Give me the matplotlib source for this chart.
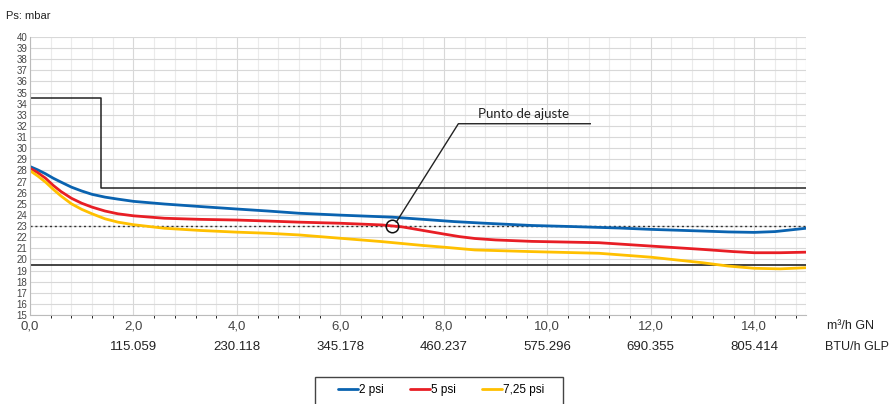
import matplotlib.pyplot as plt
from matplotlib.patches import Rectangle
import numpy as np

plt.rcParams['font.family'] = ['Liberation Sans', 'DejaVu Sans']

# caudal m3/h GN
x_blue = [0, 0.15, 0.3, 0.45, 0.6, 0.8, 1.0, 1.2, 1.45, 1.7, 2.0, 2.6, 3.3, 4.0, 4.6, 5.2,
          6.0, 7.0, 7.6, 8.2, 8.8, 9.7, 10.5, 11.4, 12.0, 13.0, 13.5, 14.0, 14.4, 15.0]
p_blue = [28.35, 28.05, 27.7, 27.3, 26.95, 26.5, 26.15, 25.85, 25.6, 25.42, 25.22, 24.98,
          24.75, 24.53, 24.35, 24.15, 23.98, 23.8, 23.6, 23.4, 23.25, 23.05, 22.95, 22.82,
          22.7, 22.55, 22.47, 22.43, 22.5, 22.8]

x_red = [0, 0.15, 0.3, 0.45, 0.6, 0.8, 1.0, 1.2, 1.45, 1.7, 2.0, 2.6, 3.3, 4.0, 4.6, 5.2,
         6.0, 6.8, 7.2, 7.6, 8.0, 8.3, 8.6, 9.0, 9.7, 11.0, 12.0, 13.0, 13.6, 14.0, 14.5, 15.0]
p_red = [28.2, 27.8, 27.3, 26.65, 26.1, 25.5, 25.05, 24.7, 24.35, 24.1, 23.92, 23.7, 23.6,
         23.54, 23.45, 23.35, 23.25, 23.1, 22.92, 22.6, 22.28, 22.05, 21.88, 21.75, 21.62,
         21.5, 21.2, 20.9, 20.7, 20.6, 20.6, 20.65]

x_yel = [0, 0.15, 0.3, 0.45, 0.6, 0.8, 1.0, 1.2, 1.45, 1.7, 2.0, 2.6, 3.3, 4.0, 4.6, 5.2,
         6.0, 6.8, 7.6, 8.0, 8.6, 9.7, 11.0, 12.0, 13.0, 13.5, 14.0, 14.5, 15.0]
p_yel = [27.98, 27.5, 26.95, 26.3, 25.7, 25.0, 24.5, 24.1, 23.65, 23.35, 23.12, 22.8, 22.6,
         22.45, 22.35, 22.2, 21.9, 21.6, 21.25, 21.1, 20.85, 20.7, 20.55, 20.2, 19.7, 19.4,
         19.2, 19.15, 19.25]

series = ['2 psi', '5 psi', '7,25 psi']
colors = ['#0a63b0', '#e81e25', '#ffc000']

# limites
step_x = [0, 1.37, 1.37, 15]
step_y = [34.5, 34.5, 26.4, 26.4]
lim_inf = 19.5
p_ajuste = 23.0
q_ajuste = 7.0

xticks = [0, 2, 4, 6, 8, 10, 12, 14]
xtick_labels = ['0,0', '2,0', '4,0', '6,0', '8,0', '10,0', '12,0', '14,0']
btu_labels = ['115.059', '230.118', '345.178', '460.237', '575.296', '690.355', '805.414']

fig = plt.figure(figsize=(8.92, 4.04), dpi=100)
ax = fig.add_axes([30 / 892, 1 - 315 / 404, 776 / 892, 278 / 404])

ax.set_xlim(0, 15)
ax.set_ylim(15, 40)
ax.set_xticks(np.arange(0, 15.01, 0.4), minor=True)
ax.set_xticks(xticks)
ax.set_xticklabels(xtick_labels, fontsize=9.5, color='#444444')
ax.set_yticks(range(15, 41))
ax.set_yticklabels([str(v) for v in range(15, 41)], fontsize=7, color='#444444')
ax.tick_params(length=0, pad=2)
ax.tick_params(axis='x', pad=4)
ax.grid(which='major', color='#d8d8d8', lw=0.8)
ax.grid(which='minor', axis='x', color='#ebebeb', lw=0.8)
ax.axvline(15, color='#d8d8d8', lw=0.8)
for s in ['top', 'right']:
    ax.spines[s].set_visible(False)
for s in ['left', 'bottom']:
    ax.spines[s].set_color('#bbbbbb')

ax.plot(step_x, step_y, color='#222222', lw=1.1)
ax.axhline(lim_inf, color='#111111', lw=1.1)
ax.axhline(p_ajuste, color='#333333', lw=1.0, ls=(0, (1.5, 2)))

lines = []
for xs, ys, c, lab in zip([x_blue, x_red, x_yel], [p_blue, p_red, p_yel], colors, series):
    l, = ax.plot(xs, ys, color=c, lw=2.0, label=lab, solid_capstyle='round',
                 solid_joinstyle='round')
    lines.append(l)

# punto de ajuste
ax.plot([q_ajuste], [p_ajuste], 'o', ms=9, mfc='none', mec='#111111', mew=1.1)
ax.plot([q_ajuste + 0.08, 8.28, 10.83], [p_ajuste + 0.35, 32.2, 32.2], color='#222222', lw=1.0)
ax.text(9.55, 32.5, 'Punto de ajuste', fontsize=9.5, color='#222222', ha='center',
        va='bottom', family='Lato')

# eje inferior secundario
for xv, lab in zip(xticks[1:], btu_labels):
    ax.text(xv, -0.115, lab, transform=ax.get_xaxis_transform(), ha='center', va='center',
            fontsize=9.5, color='#222222')
fig.text(827 / 892, 1 - 326 / 404, 'm³/h GN', fontsize=9, va='center', color='#222222')
fig.text(825 / 892, 1 - 347 / 404, 'BTU/h GLP', fontsize=9, va='center', color='#222222')
fig.text(6 / 892, 1 - 16 / 404, 'Ps: mbar', fontsize=8, va='center', color='#222222')

# leyenda
fig.patches.append(Rectangle((315 / 892, -0.05), 248 / 892, 1 - 377 / 404 + 0.05,
                             transform=fig.transFigure, fill=False, ec='#444444', lw=1.0))
fig.legend(handles=lines, loc='center', bbox_to_anchor=(441 / 892, 1 - 390 / 404), ncol=3,
           frameon=False, fontsize=8.5, handlelength=1.7, handletextpad=0.1,
           columnspacing=2.2, borderpad=0)

fig.savefig('out.png', dpi=100)
